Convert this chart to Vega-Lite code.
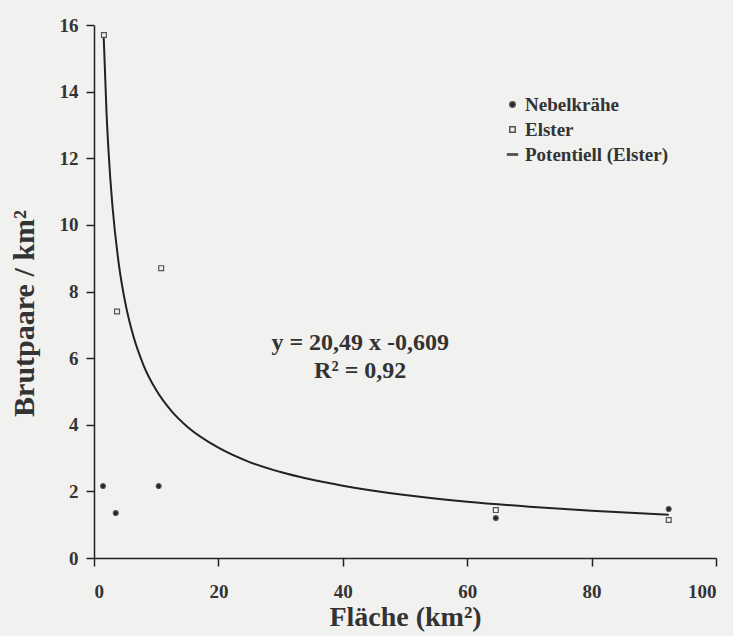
{
  "$schema": "https://vega.github.io/schema/vega-lite/v6.json",
  "width": 622,
  "height": 533,
  "autosize": {"type": "none"},
  "padding": {"left": 94, "top": 25, "right": 17, "bottom": 78},
  "background": "#f1f1ef",
  "config": {
    "view": {"stroke": null},
    "font": "Liberation Serif",
    "axis": {
      "grid": false,
      "domainColor": "#222",
      "domainWidth": 1.5,
      "tickColor": "#222",
      "tickWidth": 1.5,
      "tickSize": 8,
      "labelFont": "Liberation Serif",
      "labelFontSize": 19,
      "labelFontWeight": "bold",
      "labelColor": "#333",
      "titleFont": "Liberation Serif",
      "titleFontSize": 28,
      "titleFontWeight": "bold",
      "titleColor": "#333"
    },
    "legend": {
      "labelFont": "Liberation Serif",
      "labelFontSize": 19,
      "labelFontWeight": "bold",
      "labelColor": "#333",
      "symbolSize": 30,
      "rowPadding": 5,
      "labelOffset": 3
    }
  },
  "datasets": {
    "points": [
      {"art": "Nebelkrähe", "flaeche": 1.45, "dichte": 2.16},
      {"art": "Nebelkrähe", "flaeche": 3.5, "dichte": 1.35},
      {"art": "Nebelkrähe", "flaeche": 10.4, "dichte": 2.16},
      {"art": "Nebelkrähe", "flaeche": 64.6, "dichte": 1.2},
      {"art": "Nebelkrähe", "flaeche": 92.4, "dichte": 1.47},
      {"art": "Elster", "flaeche": 1.6, "dichte": 15.7},
      {"art": "Elster", "flaeche": 3.7, "dichte": 7.4},
      {"art": "Elster", "flaeche": 10.8, "dichte": 8.7},
      {"art": "Elster", "flaeche": 64.6, "dichte": 1.44},
      {"art": "Elster", "flaeche": 92.4, "dichte": 1.14}
    ],
    "curve": [
      {"flaeche": 1.55, "dichte": 15.69},
      {"flaeche": 2, "dichte": 13.43},
      {"flaeche": 2.5, "dichte": 11.73},
      {"flaeche": 3, "dichte": 10.5},
      {"flaeche": 4, "dichte": 8.81},
      {"flaeche": 5, "dichte": 7.69},
      {"flaeche": 6, "dichte": 6.88},
      {"flaeche": 8, "dichte": 5.77},
      {"flaeche": 10, "dichte": 5.04},
      {"flaeche": 12.5, "dichte": 4.4},
      {"flaeche": 15, "dichte": 3.94},
      {"flaeche": 20, "dichte": 3.31},
      {"flaeche": 25, "dichte": 2.88},
      {"flaeche": 30, "dichte": 2.58},
      {"flaeche": 40, "dichte": 2.17},
      {"flaeche": 50, "dichte": 1.89},
      {"flaeche": 60, "dichte": 1.69},
      {"flaeche": 70, "dichte": 1.54},
      {"flaeche": 80, "dichte": 1.42},
      {"flaeche": 92.4, "dichte": 1.3}
    ],
    "labels": [
      {"flaeche": 42.8, "dichte": 6.45, "text": "y = 20,49 x -0,609"},
      {"flaeche": 42.8, "dichte": 5.62, "text": "R² = 0,92"}
    ]
  },
  "layer": [
    {
      "data": {"name": "curve"},
      "mark": {"type": "line", "color": "#222", "strokeWidth": 2, "interpolate": "monotone"},
      "encoding": {
        "x": {"field": "flaeche", "type": "quantitative", "scale": {"domain": [0, 100], "nice": false},
              "axis": {"values": [0, 20, 40, 60, 80, 100], "title": "Fläche (km²)", "titlePadding": 2, "labelPadding": 16}},
        "y": {"field": "dichte", "type": "quantitative", "scale": {"domain": [0, 16], "nice": false},
              "axis": {"values": [0, 2, 4, 6, 8, 10, 12, 14, 16], "title": "Brutpaare / km²", "titleFontSize": 30, "titleY": 288, "titlePadding": 20, "labelPadding": 8}}
      }
    },
    {
      "data": {"name": "points"},
      "mark": {"type": "point", "strokeWidth": 1.2, "opacity": 1, "size": 24},
      "encoding": {
        "x": {"field": "flaeche", "type": "quantitative"},
        "y": {"field": "dichte", "type": "quantitative"},
        "shape": {"field": "art", "type": "nominal",
          "scale": {"domain": ["Nebelkrähe", "Elster", "Potentiell (Elster)"], "range": ["circle", "square", "M-1.8,-0.25H1.8V0.25H-1.8Z"]},
          "legend": {"title": null, "orient": "none", "legendX": 409, "legendY": 70,
            "encode": {"symbols": {"update": {"stroke": {"value": "#333"}}}}}},
        "fill": {"field": "art", "type": "nominal",
          "scale": {"domain": ["Nebelkrähe", "Elster", "Potentiell (Elster)"], "range": ["#222", "#f1f1ef", "#222"]},
          "legend": {"title": null, "orient": "none", "legendX": 409, "legendY": 70,
            "encode": {"symbols": {"update": {"stroke": {"value": "#333"}}}}}},
        "stroke": {"value": "#555"}
      }
    },
    {
      "data": {"name": "labels"},
      "mark": {"type": "text", "fontSize": 24, "fontWeight": "bold", "font": "Liberation Serif", "color": "#333", "align": "center", "baseline": "middle"},
      "encoding": {
        "x": {"field": "flaeche", "type": "quantitative"},
        "y": {"field": "dichte", "type": "quantitative"},
        "text": {"field": "text"}
      }
    }
  ]
}
